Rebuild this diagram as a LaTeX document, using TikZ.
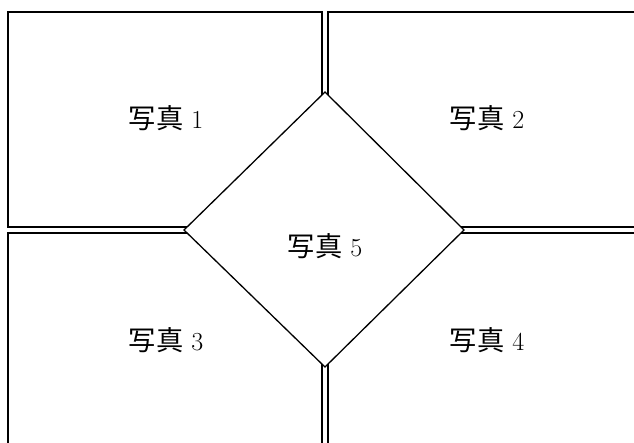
\documentclass[tikz,border=0pt]{standalone}
\usepackage{fontspec}
\newfontfamily\cjk[Scale=1.05]{Noto Sans CJK JP}
\tikzset{
  photo/.style={draw=black, line width=1.3pt, fill=white},
  lbl/.style={font=\fontsize{26}{30}\selectfont, inner sep=0pt}
}
\begin{document}
\begin{tikzpicture}[x=1pt,y=-1pt]
\useasboundingbox (0,0) rectangle (634,443);
\begin{scope}
\clip (0,0) rectangle (634,443);
\draw[photo] (8,12) rectangle (322,227);
\draw[photo] (328,12) rectangle (640,227);
\draw[photo] (8,233) rectangle (322,450);
\draw[photo] (328,233) rectangle (640,450);
\draw[photo] (325,92) -- (464,230) -- (325,367) -- (184,230) -- cycle;
\end{scope}
\node[lbl] (p1) at (166,118) {{\cjk 写真}~1};
\node[lbl] (p2) at (487,118) {{\cjk 写真}~2};
\node[lbl] (p3) at (166,340) {{\cjk 写真}~3};
\node[lbl] (p4) at (487,340) {{\cjk 写真}~4};
\node[lbl] (p5) at (325,246) {{\cjk 写真}~5};
\end{tikzpicture}
\end{document}
